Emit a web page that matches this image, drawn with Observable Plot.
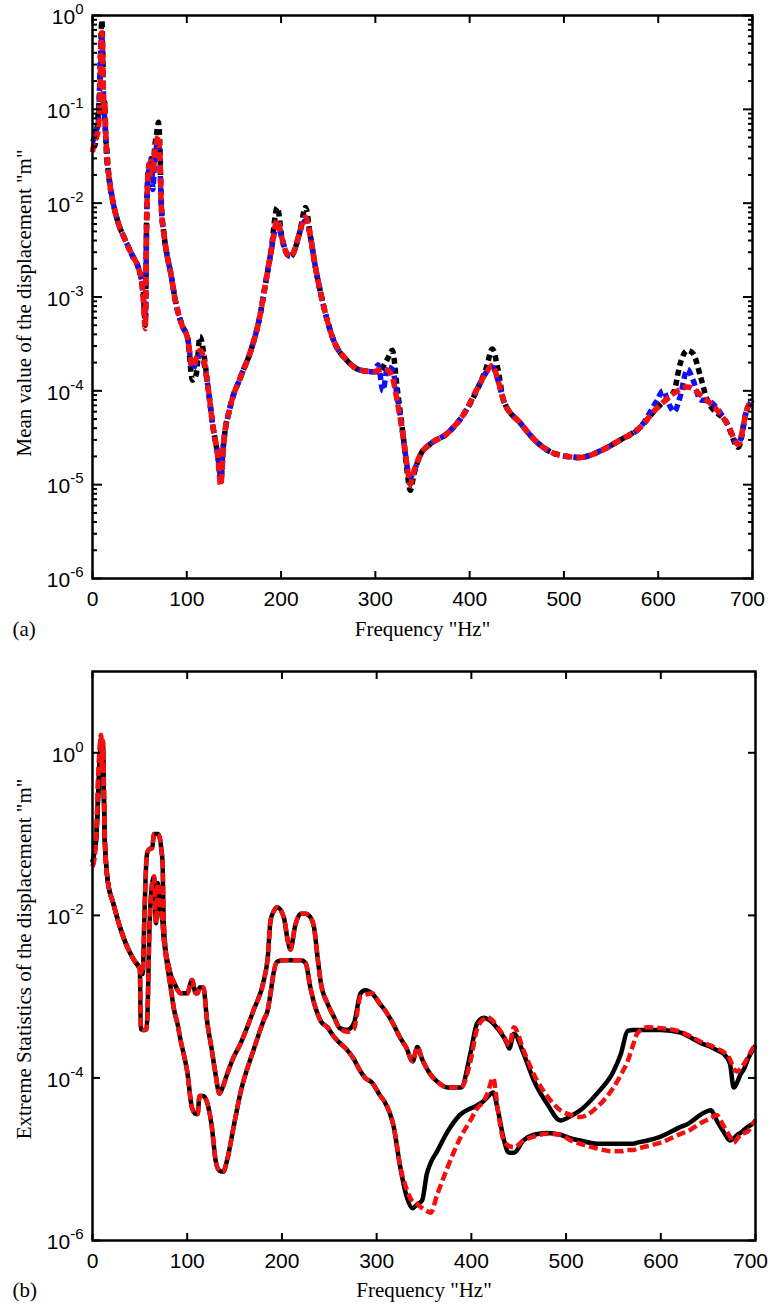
<!DOCTYPE html>
<html>
<head>
<meta charset="utf-8">
<script src="https://cdn.jsdelivr.net/npm/d3@7"></script>
<script src="https://cdn.jsdelivr.net/npm/@observablehq/plot@0.6"></script>
<style>
  body { margin: 0; background: #fff; }
  #chart svg { display: block; }
</style>
</head>
<body>
<div id="chart"></div>
<script>
// ---------- Panel (a): mean value of the displacement ----------
const freqA = [
  0, 2, 4, 6, 8, 9, 10, 11, 12, 13,
  14, 15, 17, 22, 27, 34, 42, 49, 52, 54,
  56, 57.5, 59, 61, 62.5, 64, 66, 68, 70, 71.5,
  73, 76, 79, 83, 88, 95, 101, 106, 110, 114,
  118, 122, 128, 133, 136, 139, 146, 157, 168, 178,
  183, 189, 196, 201, 206, 210, 215, 220, 226, 231,
  236, 242, 256, 270, 284, 298, 303, 308, 313, 318,
  323, 330, 334, 337, 341, 348, 358, 376, 394, 411,
  418, 424, 430, 436, 454, 472, 493, 517, 539, 560,
  581, 599, 605, 612, 617, 623, 631, 637, 645, 652,
  673, 685, 694, 700
];
const meanBlack = [
  0.04, 0.04, 0.05, 0.09, 0.2, 0.6, 0.89, 0.35, 0.09, 0.12,
  0.05, 0.04, 0.021, 0.010, 0.0063, 0.0042, 0.0028, 0.002, 0.0015, 0.0011,
  0.0005, 0.008, 0.022, 0.028, 0.03, 0.022, 0.04, 0.055, 0.073, 0.04,
  0.01, 0.0045, 0.0028, 0.0018, 0.0009, 0.0005, 0.00036, 0.00013, 0.00015, 0.00038,
  0.00025, 0.00012, 0.00004, 0.00002, 0.000011, 0.000027, 0.000067, 0.00014, 0.00027, 0.00066,
  0.0013, 0.0029, 0.009, 0.0042, 0.0029, 0.0027, 0.0033, 0.005, 0.009, 0.0045,
  0.0022, 0.0011, 0.00034, 0.00021, 0.000166, 0.00016, 0.00016, 0.00018, 0.00022, 0.00027,
  0.00011, 0.00003, 0.000013, 0.0000087, 0.000013, 0.000021, 0.000027, 0.000035, 0.000057, 0.00012,
  0.00018, 0.00028, 0.00017, 0.000079, 0.000045, 0.000028, 0.000021, 0.0000195, 0.000023, 0.00003,
  0.000041, 0.000066, 0.000075, 0.000087, 0.0001, 0.00019, 0.00027, 0.00025, 0.00014, 0.00008,
  0.000045, 0.000025, 0.000063, 0.00008
];
const meanBlue = [
  0.045, 0.05, 0.06, 0.07, 0.25, 0.5, 0.6, 0.25, 0.1, 0.08,
  0.05, 0.03, 0.021, 0.010, 0.0063, 0.0042, 0.0028, 0.002, 0.0015, 0.001,
  0.0006, 0.007, 0.02, 0.025, 0.03, 0.014, 0.03, 0.04, 0.045, 0.028,
  0.009, 0.0045, 0.0028, 0.0018, 0.0009, 0.0005, 0.00036, 0.00017, 0.0002, 0.00024,
  0.0002, 0.00012, 0.00004, 0.00002, 0.000012, 0.000027, 0.000067, 0.00014, 0.00027, 0.00066,
  0.0013, 0.0029, 0.006, 0.0042, 0.0029, 0.0027, 0.0033, 0.005, 0.0065, 0.0045,
  0.0022, 0.0011, 0.00034, 0.00021, 0.000166, 0.00016, 0.00019, 0.0001, 0.00018, 0.00017,
  0.00009, 0.00003, 0.000015, 0.000012, 0.000014, 0.000021, 0.000027, 0.000035, 0.000057, 0.00012,
  0.00016, 0.00018, 0.00013, 0.000079, 0.000045, 0.000028, 0.000021, 0.0000195, 0.000023, 0.00003,
  0.000041, 0.00008, 0.0001, 0.00007, 0.00006, 0.000085, 0.00017, 0.00013, 0.00008, 0.000079,
  0.000045, 0.000027, 0.000063, 0.00008
];
const meanRed = [
  0.035, 0.045, 0.05, 0.06, 0.15, 0.45, 0.66, 0.3, 0.1, 0.12,
  0.06, 0.035, 0.021, 0.010, 0.0063, 0.0042, 0.0028, 0.002, 0.0015, 0.0009,
  0.00046, 0.0074, 0.021, 0.027, 0.028, 0.02, 0.035, 0.045, 0.052, 0.03,
  0.009, 0.0045, 0.0028, 0.0018, 0.0009, 0.0005, 0.00036, 0.00018, 0.00022, 0.00027,
  0.00022, 0.00012, 0.00004, 0.00002, 0.0000098, 0.000027, 0.000067, 0.00014, 0.00027, 0.00066,
  0.0013, 0.0029, 0.0066, 0.0042, 0.0029, 0.0027, 0.0033, 0.005, 0.0071, 0.0045,
  0.0022, 0.0011, 0.00034, 0.00021, 0.000166, 0.00016, 0.000165, 0.00017, 0.000166, 0.00014,
  0.000079, 0.00003, 0.000015, 0.00001, 0.000014, 0.000021, 0.000027, 0.000035, 0.000057, 0.00012,
  0.00016, 0.000186, 0.00013, 0.000079, 0.000045, 0.000028, 0.000021, 0.0000195, 0.000023, 0.00003,
  0.000041, 0.000066, 0.000075, 0.000087, 0.000095, 0.000103, 0.00011, 0.000105, 0.00009, 0.000079,
  0.000045, 0.000027, 0.000063, 0.00008
];

// ---------- Panel (b): extreme statistics (upper and lower envelopes) ----------
const freqB = [
  0, 2, 4, 6, 8, 9, 10, 11, 12, 13,
  14, 16, 22, 30, 37, 44, 50, 51, 53, 55,
  57, 58, 60, 63, 65, 67, 69, 71, 73, 74,
  75, 77, 80, 83, 86, 90, 93, 97, 100, 105,
  109, 111, 113, 117, 121, 126, 130, 134, 138, 142,
  149, 156, 170, 181, 185, 188, 191, 195, 202, 206,
  209, 214, 220, 225, 230, 234, 238, 241, 248, 255,
  261, 269, 276, 283, 288, 295, 304, 308, 318, 325,
  331, 338, 343, 348, 353, 357, 364, 375, 389, 399,
  406, 413, 417, 423, 428, 434, 438, 440, 445, 455,
  466, 480, 494, 505, 515, 533, 550, 558, 565, 571,
  575, 586, 600, 621, 628, 645, 653, 659, 666, 673,
  677, 681, 684, 688, 692, 698, 700
];
const maxBlack = [
  0.045, 0.06, 0.09, 0.3, 1.0, 1.5, 0.5, 1.2, 0.3, 0.08,
  0.05, 0.027, 0.014, 0.0066, 0.004, 0.0028, 0.0022, 0.0021, 0.0019, 0.012,
  0.05, 0.06, 0.065, 0.068, 0.1, 0.1, 0.1, 0.09, 0.06, 0.045,
  0.01, 0.004, 0.0025, 0.0018, 0.0015, 0.0012, 0.0011, 0.0011, 0.0011, 0.0016,
  0.0011, 0.0011, 0.0013, 0.0013, 0.0005, 0.00022, 0.00011, 0.000064, 0.00008, 0.00011,
  0.00018, 0.00026, 0.00068, 0.0016, 0.003, 0.0087, 0.011, 0.0126, 0.0095, 0.005,
  0.0038, 0.0075, 0.0105, 0.0105, 0.0095, 0.007, 0.0028, 0.0015, 0.00083, 0.00056,
  0.00041, 0.00039, 0.00047, 0.0011, 0.0012, 0.0011, 0.0008, 0.0007, 0.00045, 0.00031,
  0.00024, 0.00016, 0.00024, 0.00017, 0.00013, 0.00011, 0.00009, 0.000076, 0.000076, 0.0002,
  0.00047, 0.00055, 0.00053, 0.00047, 0.0004, 0.00032, 0.00026, 0.00023, 0.00035, 0.0002,
  0.000093, 0.000048, 0.00003, 0.000034, 0.00004, 0.000065, 0.00012, 0.0002, 0.00038, 0.00039,
  0.00039, 0.00039, 0.00039, 0.00036, 0.00033, 0.00026, 0.00024, 0.00022, 0.0002, 0.00015,
  0.000076, 0.00009, 0.00011, 0.00013, 0.00017, 0.00023, 0.00025
];
const minBlack = [
  0.045, 0.06, 0.09, 0.3, 1.0, 1.5, 0.5, 1.2, 0.3, 0.08,
  0.05, 0.027, 0.014, 0.0066, 0.004, 0.0028, 0.0022, 0.0004, 0.00039, 0.00039,
  0.0004, 0.0006, 0.006, 0.025, 0.03, 0.008, 0.025, 0.014, 0.01, 0.008,
  0.0055, 0.0035, 0.002, 0.0012, 0.0007, 0.00045, 0.00029, 0.00018, 0.00012, 0.000043,
  0.000036, 0.000036, 0.00006, 0.00006, 0.00005, 0.000025, 0.0000096, 0.0000072, 0.000007, 0.0000096,
  0.000025, 0.000064, 0.00022, 0.00052, 0.00068, 0.0011, 0.0019, 0.0027, 0.0028, 0.0028,
  0.0028, 0.0028, 0.0028, 0.0026, 0.0013, 0.00083, 0.0006, 0.0005, 0.00042, 0.00032,
  0.00027, 0.00022, 0.00017, 0.00012, 0.0001, 0.000088, 0.00006, 0.000052, 0.000025, 0.0000079,
  0.0000037, 0.0000025, 0.0000028, 0.0000031, 0.0000066, 0.000009, 0.0000126, 0.000022, 0.000036, 0.000042,
  0.000046, 0.000052, 0.000058, 0.000066, 0.00004, 0.000018, 0.0000126, 0.000012, 0.000012, 0.000017,
  0.00002, 0.000021, 0.00002, 0.000018, 0.000017, 0.0000155, 0.0000155, 0.0000155, 0.0000155, 0.0000155,
  0.000016, 0.000017, 0.000019, 0.000025, 0.000027, 0.000037, 0.00004, 0.00003, 0.000022, 0.000017,
  0.000018, 0.00002, 0.000021, 0.000023, 0.000025, 0.000028, 0.00003
];
const maxRed = [
  0.04, 0.05, 0.1, 0.5, 1.3, 1.66, 0.6, 1.4, 0.4, 0.1,
  0.05, 0.027, 0.014, 0.0066, 0.004, 0.0028, 0.0022, 0.0021, 0.0019, 0.012,
  0.05, 0.06, 0.065, 0.068, 0.1, 0.1, 0.1, 0.09, 0.06, 0.045,
  0.01, 0.004, 0.0025, 0.0018, 0.0015, 0.0012, 0.0011, 0.0011, 0.0011, 0.0016,
  0.0011, 0.0011, 0.0013, 0.0013, 0.0005, 0.00022, 0.00011, 0.000064, 0.00008, 0.00011,
  0.00018, 0.00026, 0.00068, 0.0016, 0.003, 0.0087, 0.011, 0.0126, 0.0095, 0.005,
  0.0038, 0.0075, 0.0105, 0.0105, 0.0095, 0.007, 0.0028, 0.0015, 0.00083, 0.00056,
  0.00041, 0.00037, 0.0004, 0.001, 0.00105, 0.0011, 0.0008, 0.0007, 0.00045, 0.00031,
  0.00024, 0.00016, 0.00024, 0.00017, 0.00013, 0.00011, 0.00009, 0.000076, 0.000076, 0.00016,
  0.0004, 0.00053, 0.00056, 0.0005, 0.00042, 0.00033, 0.00027, 0.00025, 0.00042, 0.00022,
  0.00011, 0.00006, 0.00004, 0.000035, 0.000033, 0.000044, 0.000076, 0.00011, 0.00016, 0.00026,
  0.00035, 0.00042, 0.00041, 0.00037, 0.00034, 0.00027, 0.00025, 0.00023, 0.00021, 0.00017,
  0.00013, 0.00012, 0.00013, 0.00015, 0.00018, 0.00024, 0.00026
];
const minRed = [
  0.04, 0.05, 0.1, 0.5, 1.3, 1.66, 0.6, 1.4, 0.4, 0.1,
  0.05, 0.027, 0.014, 0.0066, 0.004, 0.0028, 0.0022, 0.0004, 0.00039, 0.00039,
  0.0004, 0.0006, 0.006, 0.025, 0.03, 0.008, 0.025, 0.014, 0.01, 0.008,
  0.0055, 0.0035, 0.002, 0.0012, 0.0007, 0.00045, 0.00029, 0.00018, 0.00012, 0.000043,
  0.000036, 0.000036, 0.00006, 0.00006, 0.00005, 0.000025, 0.0000096, 0.0000072, 0.000007, 0.0000096,
  0.000025, 0.000064, 0.00022, 0.00052, 0.00068, 0.0011, 0.0019, 0.0027, 0.0028, 0.0028,
  0.0028, 0.0028, 0.0028, 0.0026, 0.0013, 0.00083, 0.0006, 0.0005, 0.00042, 0.00032,
  0.00027, 0.00022, 0.00017, 0.00012, 0.0001, 0.000088, 0.00006, 0.000052, 0.000025, 0.000008,
  0.0000045, 0.000003, 0.0000028, 0.0000025, 0.0000023, 0.0000022, 0.0000037, 0.000008, 0.000019, 0.00003,
  0.000042, 0.000052, 0.000064, 0.0001, 0.00004, 0.000017, 0.000015, 0.0000145, 0.000014, 0.000017,
  0.000019, 0.0000205, 0.00002, 0.000017, 0.0000155, 0.0000135, 0.0000125, 0.0000125, 0.000013, 0.000013,
  0.0000135, 0.0000145, 0.000016, 0.0000205, 0.000022, 0.000029, 0.000032, 0.000035, 0.000026, 0.000019,
  0.000016, 0.000018, 0.00002, 0.000021, 0.000022, 0.000028, 0.00003
];

// ---------- Tick values ----------
const freqTicks = [0, 100, 200, 300, 400, 500, 600, 700];
const decadesA = [1e-6, 1e-5, 1e-4, 1e-3, 1e-2, 1e-1, 1];
const minorA = decadesA.slice(0, -1).flatMap(d => [2, 3, 4, 5, 6, 7, 8, 9].map(k => k * d));
const decadesB = [1e-6, 1e-4, 1e-2, 1];

const SANS = "'Liberation Sans', Arial, Helvetica, sans-serif";
const SERIF = "'Liberation Serif', 'Times New Roman', Times, serif";

// Boxed axes with inward ticks on all four sides
function boxAxes(yMajor, yMinor, majorLen, minorLen) {
  const marks = [
    Plot.axisX({anchor: "bottom", ticks: freqTicks, tickSize: 0, tickPadding: 13,
      tickFormat: d => String(d), fontSize: 21, fontFamily: SANS, label: null}),
    Plot.axisX({anchor: "bottom", ticks: freqTicks, tickSize: -7, strokeWidth: 2, tickFormat: () => "", label: null}),
    Plot.axisX({anchor: "top", ticks: freqTicks, tickSize: -7, strokeWidth: 2, tickFormat: () => "", label: null}),
    Plot.axisY({anchor: "left", ticks: yMajor, tickSize: 0, tickPadding: 9, dy: 2,
      tickFormat: d => "10^" + Math.round(Math.log10(d)), fontSize: 21, fontFamily: SANS, label: null}),
    Plot.axisY({anchor: "left", ticks: yMajor, tickSize: -majorLen, strokeWidth: 2, tickFormat: () => "", label: null}),
    Plot.axisY({anchor: "right", ticks: yMajor, tickSize: -majorLen, strokeWidth: 2, tickFormat: () => "", label: null})
  ];
  if (yMinor) {
    marks.push(
      Plot.axisY({anchor: "left", ticks: yMinor, tickSize: -minorLen, strokeWidth: 2, tickFormat: () => "", label: null}),
      Plot.axisY({anchor: "right", ticks: yMinor, tickSize: -minorLen, strokeWidth: 2, tickFormat: () => "", label: null})
    );
  }
  return marks;
}

function titles(yTitle, tag, xdy, ydy) {
  return [
    Plot.text(["Frequency \"Hz\""], {text: d => d, frameAnchor: "bottom", dy: xdy, lineAnchor: "bottom",
      fontSize: 21, fontFamily: SERIF, fill: "black"}),
    Plot.text([tag], {text: d => d, frameAnchor: "bottom-left", dx: -80, dy: xdy, textAnchor: "start",
      lineAnchor: "bottom", fontSize: 21, fontFamily: SERIF, fill: "black"}),
    Plot.text([yTitle], {text: d => d, frameAnchor: "left", rotate: -90, dx: -62, dy: ydy,
      textAnchor: "middle", lineAnchor: "bottom", fontSize: 21, fontFamily: SERIF, fill: "black"})
  ];
}

// Replace "10^k" tick strings with a proper superscript; pull the last
// frequency label slightly inward so it stays on the page
function finishTicks(svg) {
  svg.querySelectorAll('g[aria-label="y-axis tick label"] text').forEach(t => {
    const m = /^10\^(.+)$/.exec(t.textContent);
    if (!m) return;
    t.textContent = "10";
    const s = document.createElementNS("http://www.w3.org/2000/svg", "tspan");
    s.setAttribute("dy", "-10");
    s.setAttribute("font-size", "15");
    s.textContent = m[1];
    t.appendChild(s);
  });
  svg.querySelectorAll('g[aria-label="x-axis tick label"] text').forEach(t => {
    if (t.textContent === "700") t.setAttribute("dx", "-5");
  });
}

const lineOpts = {curve: "monotone-x", strokeLinecap: "butt", strokeLinejoin: "round"};

const panelA = Plot.plot({
  width: 770, height: 650,
  marginTop: 15, marginBottom: 72, marginLeft: 92, marginRight: 18,
  style: {background: "white", color: "black", overflow: "visible"},
  x: {domain: [0, 700]},
  y: {type: "log", domain: [1e-6, 1]},
  marks: [
    Plot.line(freqA, {...lineOpts, x: freqA, y: meanBlack, stroke: "#000000", strokeWidth: 5.5, strokeDasharray: "6,4"}),
    Plot.line(freqA, {...lineOpts, x: freqA, y: meanBlue, stroke: "#1010f5", strokeWidth: 5.5, strokeDasharray: "7,4", strokeDashoffset: 3}),
    Plot.line(freqA, {...lineOpts, x: freqA, y: meanRed, stroke: "#f51010", strokeWidth: 5.5, strokeDasharray: "9,4"}),
    ...boxAxes(decadesA, minorA, 10, 5),
    Plot.frame({strokeWidth: 2.5}),
    ...titles("Mean value of the displacement \"m\"", "(a)", 57, 6)
  ]
});

const panelB = Plot.plot({
  width: 770, height: 655,
  marginTop: 21, marginBottom: 65, marginLeft: 92, marginRight: 15,
  style: {background: "white", color: "black", overflow: "visible"},
  x: {domain: [0, 700]},
  y: {type: "log", domain: [1e-6, 10]},
  marks: [
    Plot.line(freqB, {...lineOpts, x: freqB, y: maxBlack, stroke: "#000000", strokeWidth: 4.5}),
    Plot.line(freqB, {...lineOpts, x: freqB, y: minBlack, stroke: "#000000", strokeWidth: 4.5}),
    Plot.line(freqB, {...lineOpts, x: freqB, y: maxRed, stroke: "#f51010", strokeWidth: 4.5, strokeDasharray: "9,4"}),
    Plot.line(freqB, {...lineOpts, x: freqB, y: minRed, stroke: "#f51010", strokeWidth: 4.5, strokeDasharray: "9,4"}),
    ...boxAxes(decadesB, null, 8, 0),
    Plot.frame({strokeWidth: 2.5}),
    ...titles("Extreme Statistics of the displacement \"m\"", "(b)", 56, 3)
  ]
});

finishTicks(panelA);
finishTicks(panelB);
document.getElementById("chart").append(panelA, panelB);
</script>
</body>
</html>
